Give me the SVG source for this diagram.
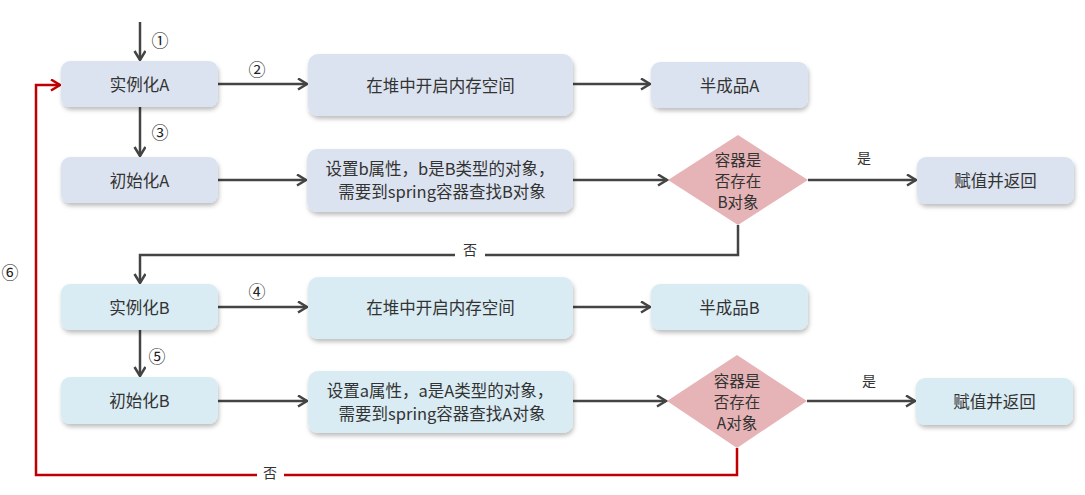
<svg xmlns="http://www.w3.org/2000/svg" width="1085" height="495" viewBox="0 0 1085 495">
<style>
.t{font-family:"Noto Sans CJK SC","Liberation Sans",sans-serif;font-size:16.5px;fill:#333;text-anchor:middle;dominant-baseline:central}
.d{font-family:"Noto Sans CJK SC","Liberation Sans",sans-serif;font-size:15.5px;fill:#333;text-anchor:middle;dominant-baseline:central}
.s{font-family:"Noto Sans CJK SC","DejaVu Sans",sans-serif;font-size:14px;fill:#333;text-anchor:middle;dominant-baseline:central}
.c{font-family:"Noto Sans CJK SC","DejaVu Sans",sans-serif;font-size:17px;fill:#222;text-anchor:middle;dominant-baseline:central}
.ba{fill:#dce3f0;filter:url(#sh)}
.bb{fill:#d9ebf3;filter:url(#sh)}
.dm{fill:#e6b4b6}
.ln{fill:none;stroke:#444;stroke-width:2.5;marker-end:url(#ar)}
.rd{fill:none;stroke:#c00000;stroke-width:2.5;marker-end:url(#arr)}
</style>
<defs>
<filter id="sh" x="-10%" y="-20%" width="120%" height="150%">
<feDropShadow dx="1" dy="3" stdDeviation="2" flood-color="#000" flood-opacity="0.25"/>
</filter>
<marker id="ar" markerWidth="12" markerHeight="14" refX="10" refY="6" orient="auto" markerUnits="userSpaceOnUse">
<path d="M1,0.5 L10,6 L1,11.5" fill="none" stroke="#444" stroke-width="2.5"/>
</marker>
<marker id="arr" markerWidth="12" markerHeight="14" refX="10" refY="6" orient="auto" markerUnits="userSpaceOnUse">
<path d="M1,0.5 L10,6 L1,11.5" fill="none" stroke="#c00000" stroke-width="2.5"/>
</marker>
</defs>
<rect width="1085" height="495" fill="#fff"/>

<g id="connectors">
<path class="ln" d="M140,22 V60"/>
<path class="ln" d="M218,84 H307"/>
<path class="ln" d="M573,84 H650"/>
<path class="ln" d="M140,107 V156"/>
<path class="ln" d="M218,180 H306"/>
<path class="ln" d="M573,180 H667"/>
<path class="ln" d="M808,180 H916"/>
<path class="ln" d="M738,225 V255 H140 V283"/>
<path class="ln" d="M218,307 H307"/>
<path class="ln" d="M573,307 H650"/>
<path class="ln" d="M140,330 V376"/>
<path class="ln" d="M218,401 H307"/>
<path class="ln" d="M573,401 H666"/>
<path class="ln" d="M807,401 H915"/>
<path class="rd" d="M737,448 V475 H36 V85 H60"/>
<rect x="455" y="240" width="30" height="22" fill="#fff"/>
<text class="s" x="470" y="249">否</text>
<rect x="257" y="462" width="27" height="22" fill="#fff"/>
<text class="s" x="270" y="472">否</text>
<text class="s" x="864" y="157">是</text>
<text class="s" x="869" y="380">是</text>
<text class="c" x="160" y="39">①</text>
<text class="c" x="257" y="68">②</text>
<text class="c" x="160" y="131">③</text>
<text class="c" x="257" y="290">④</text>
<text class="c" x="157" y="355">⑤</text>
<text class="c" x="10" y="271">⑥</text>
</g>

<g id="instA"><rect class="ba" x="61" y="61" width="157" height="46" rx="9"/><text class="t" x="139.5" y="84">实例化A</text></g>
<g id="heapA"><rect class="ba" x="308" y="54" width="265" height="62" rx="10"/><text class="t" x="440.5" y="85">在堆中开启内存空间</text></g>
<g id="halfA"><rect class="ba" x="651" y="62" width="157" height="46" rx="9"/><text class="t" x="729.5" y="85">半成品A</text></g>
<g id="initA"><rect class="ba" x="61" y="157" width="157" height="46" rx="9"/><text class="t" x="139.5" y="180">初始化A</text></g>
<g id="setB"><rect class="ba" x="307" y="149" width="266" height="63" rx="10"/><text class="t" x="440" y="168">设置b属性，b是B类型的对象，</text><text class="t" x="442" y="191">需要到spring容器查找B对象</text></g>
<g id="checkB"><polygon class="dm" points="738,135 808,180 738,225 668,180"/><text class="d" x="738" y="159">容器是</text><text class="d" x="738" y="180">否存在</text><text class="d" x="738" y="201">B对象</text></g>
<g id="retA"><rect class="ba" x="917" y="157" width="157" height="47" rx="9"/><text class="t" x="995.5" y="180">赋值并返回</text></g>

<g id="instB"><rect class="bb" x="61" y="284" width="157" height="46" rx="9"/><text class="t" x="139.5" y="307">实例化B</text></g>
<g id="heapB"><rect class="bb" x="308" y="277" width="265" height="62" rx="10"/><text class="t" x="440.5" y="307">在堆中开启内存空间</text></g>
<g id="halfB"><rect class="bb" x="651" y="284" width="157" height="46" rx="9"/><text class="t" x="729.5" y="307">半成品B</text></g>
<g id="initB"><rect class="bb" x="61" y="377" width="157" height="47" rx="9"/><text class="t" x="139.5" y="400">初始化B</text></g>
<g id="setA"><rect class="bb" x="308" y="371" width="265" height="62" rx="10"/><text class="t" x="440" y="390">设置a属性，a是A类型的对象，</text><text class="t" x="442" y="413">需要到spring容器查找A对象</text></g>
<g id="checkA"><polygon class="dm" points="737,355 807,401 737,448 667,401"/><text class="d" x="737" y="380">容器是</text><text class="d" x="737" y="401">否存在</text><text class="d" x="737" y="422">A对象</text></g>
<g id="retB"><rect class="bb" x="916" y="378" width="157" height="47" rx="9"/><text class="t" x="994.5" y="401">赋值并返回</text></g>
</svg>
